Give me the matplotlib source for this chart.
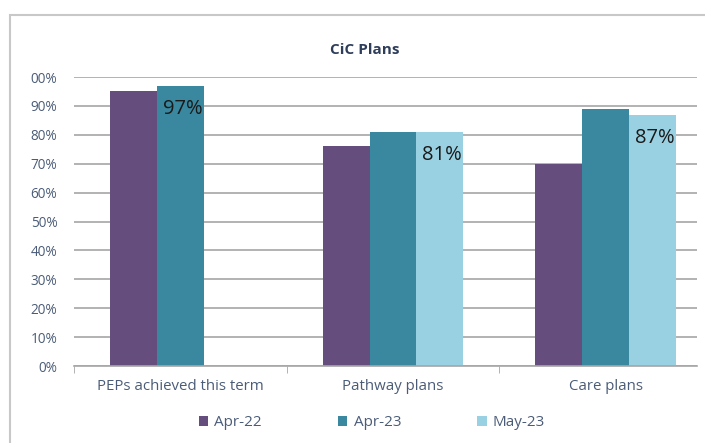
import matplotlib.pyplot as plt
import numpy as np
from matplotlib.patches import Rectangle

plt.rcParams['font.family'] = ['Open Sans', 'DejaVu Sans']

categories = ["PEPs achieved this term", "Pathway plans", "Care plans"]
series = ["Apr-22", "Apr-23", "May-23"]
apr22 = [0.95, 0.76, 0.70]
apr23 = [0.97, 0.81, 0.89]
may23 = [np.nan, 0.81, 0.87]
ytick_vals = np.arange(0, 1.01, 0.1)
ytick_labels = ["0%", "10%", "20%", "30%", "40%", "50%", "60%", "70%", "80%", "90%", "00%"]

colors = ["#654E7D", "#3A88A0", "#9AD1E2"]
text_col = "#4B5C78"

fig = plt.figure(figsize=(7.05, 4.43), dpi=100)
# card frame
fig.patches.append(Rectangle((10 / 705, -0.05), 1.0, 1 - 15 / 443 + 0.05,
                             transform=fig.transFigure, facecolor="white",
                             edgecolor="#C8C8C8", lw=1.5, zorder=-5))
ax = fig.add_axes([74 / 705, 1 - 366 / 443, (697 - 74) / 705, (366 - 77) / 443])
ax.set_zorder(2)
ax.patch.set_alpha(0)

x = np.arange(len(categories))
w = 0.22
for i, (vals, name) in enumerate(zip([apr22, apr23, may23], series)):
    ax.bar(x + (i - 1) * w, vals, width=w, color=colors[i], label=name, zorder=2)

# value labels (last available value per category)
for xi, (b, c) in enumerate(zip(apr23, may23)):
    if np.isnan(c):
        v, off = b, 0
    else:
        v, off = c, 1
    ax.text(xi + off * w + w / 2 - 0.005, v - 0.045, f"{v * 100:.0f}%", ha="right",
            va="top", fontsize=14.5, color="#1A1A1A", zorder=3)

ax.set_xlim(-0.5, 2.43)
ax.set_ylim(0, 1)
ax.set_yticks(ytick_vals)
ax.set_yticklabels(ytick_labels)
ax.set_xticks(x)
ax.set_xticklabels(categories)
ax.set_xticks([-0.5, 0.5, 1.5], minor=True)
ax.tick_params(axis="x", which="major", length=0, pad=9, labelsize=10.8, labelcolor=text_col)
ax.tick_params(axis="x", which="minor", length=5, color="#A6A6A6")
ax.tick_params(axis="y", length=0, pad=12, labelsize=9.8, labelcolor=text_col)
ax.grid(axis="y", color="#A6A6A6", lw=1.2, zorder=0)
for s in ["top", "right", "left"]:
    ax.spines[s].set_visible(False)
ax.spines["bottom"].set_color("#A6A6A6")
ax.spines["bottom"].set_linewidth(1.2)

fig.text(365 / 705, 1 - 50 / 443, "CiC Plans", ha="center", va="center",
         fontsize=11, fontweight="bold", color="#2E3D5A")

ax.legend(loc="center", bbox_to_anchor=(372 / 705, 1 - 423 / 443),
          bbox_transform=fig.transFigure, ncol=3, frameon=False,
          fontsize=11, handlelength=0.6, handleheight=0.6, columnspacing=5.0,
          handletextpad=0.4, labelcolor=text_col)

fig.savefig("out.png", dpi=100)
